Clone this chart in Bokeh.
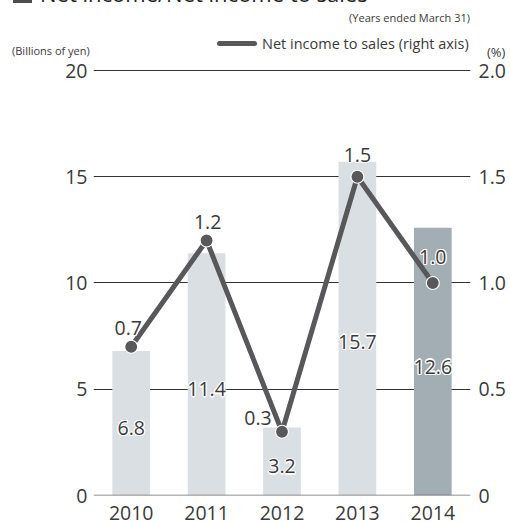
from bokeh.plotting import figure
from bokeh.layouts import column
from bokeh.models import (FactorRange, Range1d, LinearAxis, FixedTicker, Span,
                          ColumnDataSource, PrintfTickFormatter, Div)
from bokeh.embed import file_html
from bokeh.resources import INLINE
from bokeh.core.properties import value

# Fiscal years (ended March 31)
years = ["2010", "2011", "2012", "2013", "2014"]
# Net income, billions of yen
net_income = [6.8, 11.4, 3.2, 15.7, 12.6]
# Net income to sales, %
income_to_sales = [0.7, 1.2, 0.3, 1.5, 1.0]
left_ticks = [0, 5, 10, 15, 20]
right_ticks = [0, 0.5, 1.0, 1.5, 2.0]

FONT = "Open Sans"
TEXT = "#3a3a3a"
BAR_LIGHT = "#dadfe3"
BAR_DARK = "#a2adb4"
LINE = "#58585a"
NUM_SIZE = "19.5px"

HEAD_H = 62
LEFT_TOP = 20.376      # a little headroom above the 20 gridline
PCT_TOP = LEFT_TOP / 10

# ---------------------------------------------------------------- chart --
p = figure(width=510, height=522 - HEAD_H,
           x_range=FactorRange(*years), y_range=Range1d(0, LEFT_TOP),
           output_backend="svg", toolbar_location=None,
           min_border_left=93, min_border_right=40,
           min_border_top=0, min_border_bottom=27,
           outline_line_color=None, background_fill_color="white",
           border_fill_color="white")
p.extra_y_ranges = {"pct": Range1d(0, PCT_TOP)}


def style_axis(ax, standoff):
    ax.axis_line_color = None
    ax.major_tick_line_color = None
    ax.minor_tick_line_color = None
    ax.major_tick_out = 0
    ax.major_tick_in = 0
    ax.minor_tick_out = 0
    ax.minor_tick_in = 0
    ax.major_label_standoff = standoff
    ax.major_label_text_font = FONT
    ax.major_label_text_font_size = NUM_SIZE
    ax.major_label_text_color = TEXT


left = p.yaxis[0]
left.ticker = FixedTicker(ticks=left_ticks)
style_axis(left, 6)

right = LinearAxis(y_range_name="pct", ticker=FixedTicker(ticks=right_ticks),
                   formatter=PrintfTickFormatter(format="%.1f"))
right.major_label_overrides = {0: "0"}
style_axis(right, 8)
p.add_layout(right, "right")

bottom = p.xaxis[0]
style_axis(bottom, 10)

p.xgrid.grid_line_color = None
p.ygrid.ticker = FixedTicker(ticks=left_ticks[1:])
p.ygrid.grid_line_color = "#333333"
p.ygrid.grid_line_width = 1

# bars
bars = ColumnDataSource(dict(
    year=years, value=net_income,
    color=[BAR_LIGHT, BAR_LIGHT, BAR_LIGHT, BAR_LIGHT, BAR_DARK],
    mid=[v / 2 for v in net_income],
    label=[f"{v:.1f}" for v in net_income],
    dx=[0, 0, 0, 0, 0],
    dy=[5, 15, 5, 13, 5],
))
p.vbar(x="year", top="value", width=0.5, source=bars,
       fill_color="color", line_color=None)

p.add_layout(Span(location=0, dimension="width", line_color="#6e6e6e",
                  line_width=1.5))

# ratio line on the right-hand scale
ratio = ColumnDataSource(dict(
    year=years, pct=income_to_sales,
    label=[f"{v:.1f}" for v in income_to_sales],
    dx=[-3, 1, -24, 0, 0],
    dy=[-19, -18, -14, -22, -26],
))
p.line(x="year", y="pct", source=ratio, y_range_name="pct",
       line_color=LINE, line_width=5, line_join="round")
p.scatter(x="year", y="pct", source=ratio, y_range_name="pct", size=13,
          fill_color=LINE, line_color="white", line_width=1.2)

# value labels with a thin white halo
halo = [(-1.2, 0), (1.2, 0), (0, -1.2), (0, 1.2),
        (-0.9, -0.9), (0.9, -0.9), (-0.9, 0.9), (0.9, 0.9)]


def haloed_text(src, y_col, range_name=None):
    kw = {} if range_name is None else {"y_range_name": range_name}
    base = dict(src.data)
    for hx, hy in halo:
        d = dict(base)
        d["hx"] = [a + hx for a in d["dx"]]
        d["hy"] = [a + hy for a in d["dy"]]
        p.text(x="year", y=y_col, text="label", source=ColumnDataSource(d),
               x_offset="hx", y_offset="hy", text_align="center",
               text_baseline="middle", text_font=value(FONT),
               text_font_size=NUM_SIZE, text_color="white", **kw)
    p.text(x="year", y=y_col, text="label", source=src,
           x_offset="dx", y_offset="dy", text_align="center",
           text_baseline="middle", text_font=value(FONT),
           text_font_size=NUM_SIZE, text_color=TEXT, **kw)


haloed_text(bars, "mid")
haloed_text(ratio, "pct", "pct")

# --------------------------------------------------------------- header --
# Heading, unit captions and the line legend key, laid out in pixels.
def span(text, left=None, right=None, top=0, size=11, color=TEXT,
         lh=None, extra=""):
    lh = lh if lh is not None else round(size * 1.15)
    pos = f"left:{left}px;" if left is not None else f"right:{right}px;"
    return (f'<span style="position:absolute;{pos}top:{top}px;'
            f'font-family:\'{FONT}\',sans-serif;font-size:{size}px;'
            f'line-height:{lh}px;color:{color};white-space:nowrap;{extra}">'
            f'{text}</span>')


header_html = (
    '<div style="position:relative;width:510px;height:62px;'
    'overflow:hidden;background:white;">'
    '<span style="position:absolute;left:13px;top:-16px;width:19px;'
    'height:19px;background:#4d4d4d;"></span>'
    + span("Net income/Net income to sales", left=40, top=-18.5, size=22,
           lh=22, color="#222222")
    + span("(Years ended March 31)", right=40, top=11.5, size=11, lh=12)
    + '<span style="position:absolute;left:217px;top:40.5px;width:40px;'
      'height:5px;border-radius:2.5px;background:' + LINE + ';"></span>'
    + span("Net income to sales (right axis)", left=262, top=35.4,
           size=14.5, lh=18)
    + span("(Billions of yen)", left=12, top=44.5, size=11, lh=12)
    + span("(%)", left=487, top=44.5, size=13, lh=15)
    + '</div>'
)
header = Div(text=header_html, width=510, height=HEAD_H, margin=0)

layout = column(header, p, spacing=0)
open("out.html", "w").write(file_html(layout, INLINE))
